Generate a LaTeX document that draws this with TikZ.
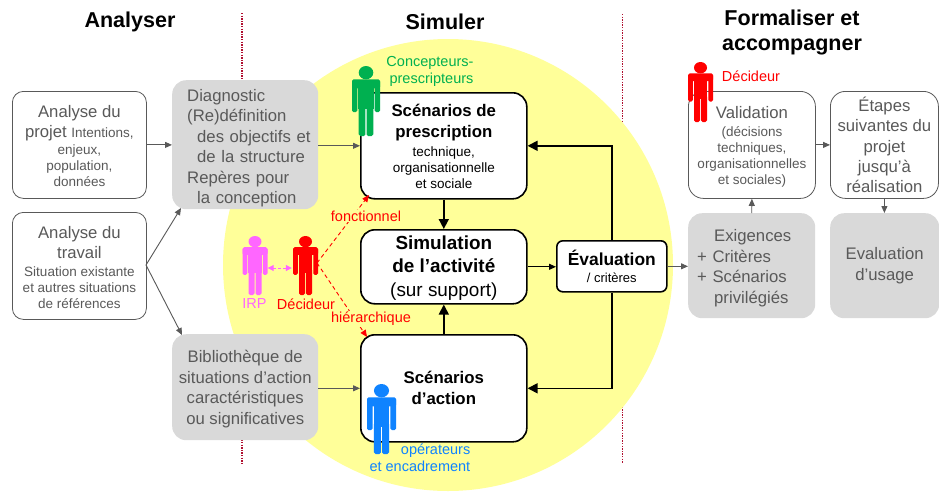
\documentclass[tikz,border=0pt]{standalone}
\usepackage{fontspec}
\setmainfont{Liberation Sans}
\usetikzlibrary{arrows.meta,calc}
\definecolor{yel}{HTML}{FFFF99}
\definecolor{grayfill}{HTML}{D9D9D9}
\definecolor{txt}{HTML}{595959}
\definecolor{greenp}{HTML}{00B050}
\definecolor{bluep}{HTML}{0F83FF}
\definecolor{pinkp}{HTML}{FF66FF}
\definecolor{sep}{HTML}{B01030}
\newcommand{\fs}[2]{\fontsize{#1}{#2}\selectfont}
\newcommand{\sm}{\normalfont\fs{13.5}{16}}
\newcommand{\personfig}[5]{% x y w h colour
  \begin{scope}[shift={(#1,#2)},x=#3pt,y=-#4pt]
    \fill[#5] (.5,.095) ellipse[x radius=.26,y radius=.095];
    \fill[#5,rounded corners=1.6pt] (0,.19) rectangle (1,.32);
    \fill[#5,rounded corners=1.6pt] (0,.2) rectangle (.19,.66);
    \fill[#5,rounded corners=1.6pt] (.81,.2) rectangle (1,.66);
    \fill[#5] (.23,.2) rectangle (.77,.62);
    \fill[#5,rounded corners=1.6pt] (.24,.55) rectangle (.48,1);
    \fill[#5,rounded corners=1.6pt] (.52,.55) rectangle (.76,1);
  \end{scope}}
\tikzset{
  title/.style={font=\bfseries\fs{21.5}{25},align=center,text=black,inner sep=0},
  whitebox/.style={draw=txt,line width=.8pt,fill=white,rounded corners=11pt,align=center,text=txt,inner sep=0,anchor=north west,font=\fs{16.7}{16}},
  graybox/.style={fill=grayfill,rounded corners=14pt,align=center,text=txt,inner sep=0,anchor=north west,font=\fs{16.7}{20.4}},
  blackbox/.style={draw=black,line width=1.6pt,fill=white,rounded corners=14pt,align=center,text=black,inner sep=0,anchor=north west,font=\bfseries\fs{16.8}{16}},
  garrow/.style={draw=txt,line width=.9pt,-{Triangle[length=7pt,width=6pt]}},
  barrow/.style={draw=black,line width=1.6pt,-{Triangle[length=10pt,width=10pt]}},
  rarrow/.style={draw=red,line width=.9pt,dashed,dash pattern=on 4pt off 3pt,-{Triangle[length=7pt,width=6pt]}},
  lab/.style={font=\fs{14.5}{17},inner sep=0,align=center},
  sepline/.style={sep,line width=1.3pt,dash pattern=on 1.3pt off 1.3pt},
}
\begin{document}
\begin{tikzpicture}[x=1pt,y=-1pt]
\useasboundingbox (0,0) rectangle (939,491);
\fill[white] (0,0) rectangle (939,491);
\draw[sepline] (242,13) -- (242,464);
\draw[sepline] (622.5,14) -- (622.5,463);
\fill[yel] (448,265) ellipse[x radius=225,y radius=226];

\node[title] (t1) at (130,22) {Analyser};
\node[title] (t2) at (445,22) {Simuler};
\node[title] (t3) at (792,32) {Formaliser et\\accompagner};

\node[whitebox,minimum width=134pt,minimum height=107pt] (projet) at (12,91)
 {\rule{0pt}{15pt}Analyse du\\[4pt]projet \sm Intentions,\\[1pt]\sm enjeux,\\\sm population,\\\sm données};
\node[whitebox,minimum width=134pt,minimum height=107pt] (travail) at (12,212)
 {\rule{0pt}{15pt}Analyse du\\[4pt]travail\\[2pt]\sm Situation existante\\\sm et autres situations\\\sm de références};
\node[graybox,minimum width=146pt,minimum height=129pt,text width=116pt,inner xsep=15pt,align=left] (diag) at (172,80)
 {\rule{0pt}{19pt}Diagnostic\\(Re)définition\\\mbox{\hspace*{10pt}des objectifs et}\\\mbox{\hspace*{10pt}de la structure}\\Repères pour\\\mbox{\hspace*{10pt}la conception}};
\node[graybox,minimum width=146pt,minimum height=106pt] (biblio) at (172,334)
 {\rule{0pt}{16pt}Bibliothèque de\\situations d’action\\caractéristiques\\ou significatives};
\node[blackbox,minimum width=166pt,minimum height=106pt] (presc) at (360,92)
 {\rule{0pt}{14pt}Scénarios de\\[5pt]prescription\\[3pt]\sm technique,\\\sm organisationnelle\\\sm et sociale};
\node[blackbox,minimum width=166pt,minimum height=74pt,font=\bfseries\fs{18.9}{23.5}] (simu) at (360,229)
 {\rule{0pt}{16pt}Simulation\\de l’activité\\\normalfont\fs{18.9}{23.5}(sur support)};
\node[blackbox,minimum width=166pt,minimum height=107pt,font=\bfseries\fs{16.8}{21}] (action) at (360,334)
 {Scénarios\\d’action};
\node[blackbox,minimum width=110pt,minimum height=51pt,rounded corners=6pt,font=\bfseries\fs{17.4}{16}] (eval) at (556,240)
 {Évaluation\\[1pt]\normalfont\fs{13}{16}/ critères};
\node[whitebox,rounded corners=15pt,minimum width=127pt,minimum height=107pt] (valid) at (688,91)
 {\rule{0pt}{16pt}Validation\\[2pt]\sm (décisions\\\sm techniques,\\\sm organisationnelles\\\sm et sociales)};
\node[whitebox,rounded corners=15pt,minimum width=108pt,minimum height=107pt,font=\fs{16.7}{20.4}] (etapes) at (830,91)
 {Étapes\\suivantes du\\projet\\jusqu’à\\réalisation};
\node[graybox,minimum width=127pt,minimum height=105pt,text width=109pt,inner xsep=9pt,align=left] (exig) at (688,213)
 {\rule{0pt}{17pt}\hspace*{17pt}Exigences\\+ Critères\\+ Scénarios\\\hspace*{17pt}privilégiés};
\node[graybox,minimum width=109pt,minimum height=105pt] (usage) at (830,213)
 {Evaluation\\d’usage};

\coordinate (trav) at (146,265);
\coordinate (dA) at (181,208);
\coordinate (bA) at (182,335);
\draw[garrow] (projet.east) -- (diag.west |- projet.east);
\draw[garrow] (trav) -- (dA);
\draw[garrow] (trav) -- (bA);
\draw[garrow] (diag.east |- presc.west) -- (presc.west);
\draw[garrow] (biblio.east |- action.west) -- (action.west);
\draw[garrow] (eval.east) -- (exig.west |- eval.east);
\draw[garrow] (exig.north) -- (valid.south);
\draw[garrow] (valid.east) -- (etapes.west);
\draw[garrow] (etapes.south) -- (etapes.south |- usage.north);

\draw[barrow] (presc.south) -- (simu.north);
\draw[barrow] (action.north) -- (simu.south);
\draw[garrow,draw=black,line width=1.1pt] (simu.east) -- (simu.east -| eval.west);
\draw[barrow] (eval.north) |- (presc.east);
\draw[barrow] (eval.south) |- (action.east);

\node[inner sep=0,minimum width=25pt,minimum height=59pt] (dec) at (305.5,265.5) {};
\node[inner sep=0,minimum width=25pt,minimum height=59pt] (irp) at (255,265.5) {};
\coordinate (decO) at (317,263);
\coordinate (pT) at (369,195);
\coordinate (aT) at (367,337);
\draw[rarrow] (decO) -- (pT);
\draw[rarrow] (decO) -- (aT);
\draw[pinkp,line width=1pt,dashed,dash pattern=on 3pt off 2pt,{Triangle[length=6pt,width=6pt]}-{Triangle[length=6pt,width=6pt]}] ($(irp.east)+(0,2.5)$) -- ($(dec.west)+(-1,2.5)$);

\node[lab,text=red,fill=yel,inner ysep=1pt] (fonc) at (366,216) {fonctionnel};
\node[lab,text=red,fill=yel,inner ysep=1pt] (hier) at (371,319) {hiérarchique};
\node[lab,text=pinkp] (irpl) at (254.5,304) {IRP};
\node[lab,text=red] (decl) at (306,304) {Décideur};
\node[lab,text=greenp] (conc) at (430,71) {Concepteurs-\\\hspace*{3pt}prescripteurs};
\node[lab,text=bluep,align=right,anchor=north east] (oper) at (470.5,444) {opérateurs\\et encadrement};
\node[lab,text=red] (dec2l) at (751,76) {Décideur};

\personfig{352}{66}{28}{70}{greenp}
\personfig{367}{384}{29}{70}{bluep}
\personfig{293}{236}{25}{59}{red}
\personfig{242.5}{236}{25}{59}{pinkp}
\personfig{688}{62}{25}{60}{red}
\end{tikzpicture}
\end{document}
